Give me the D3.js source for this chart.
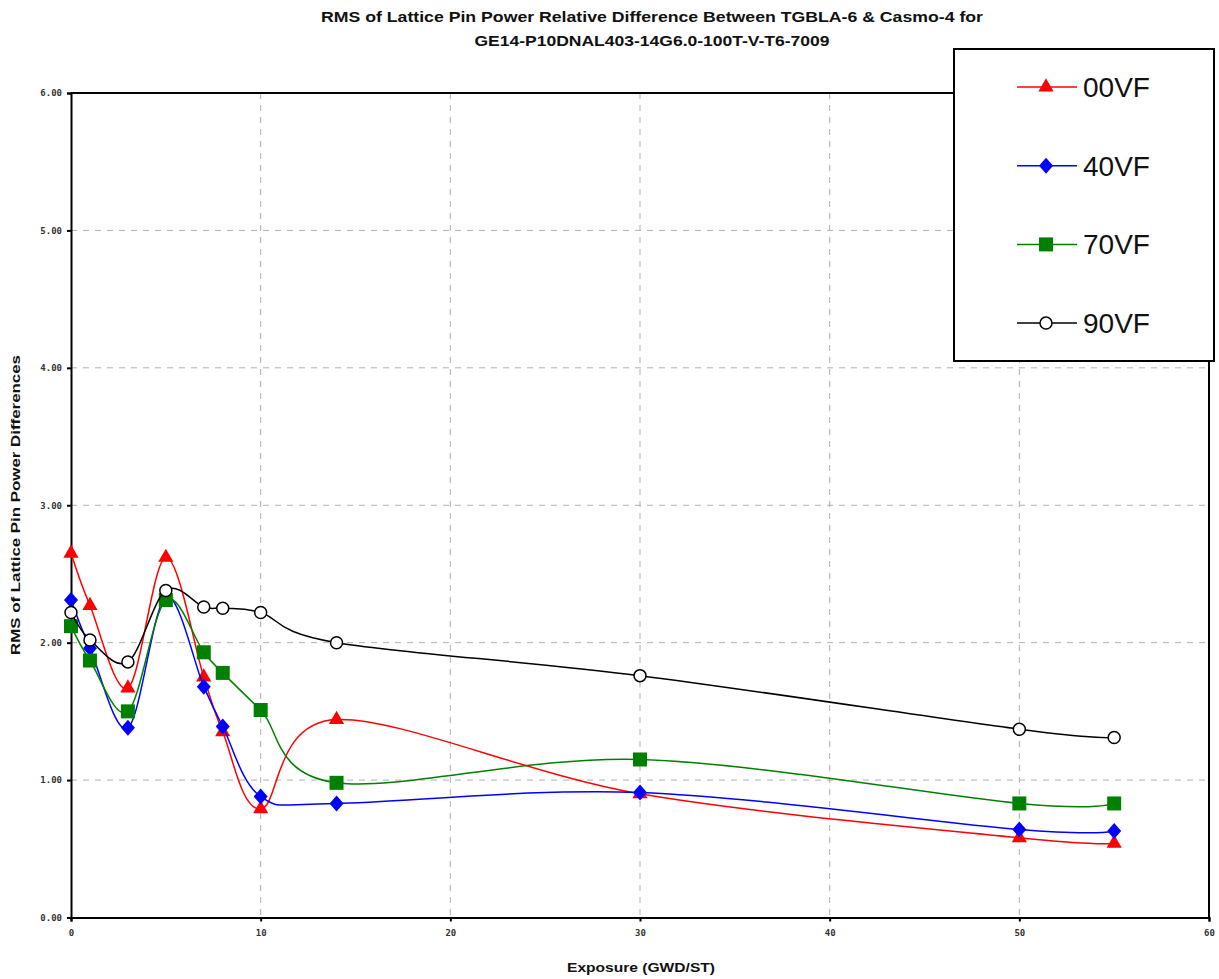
<!DOCTYPE html>
<html>
<head>
<meta charset="utf-8">
<script src="https://cdn.jsdelivr.net/npm/d3@7"></script>
<style>
  html, body { margin: 0; padding: 0; background: #fff; }
  svg { display: block; font-family: "Liberation Sans", Arial, sans-serif; }
</style>
</head>
<body>
<svg id="chart" width="1219" height="979"></svg>
<script>
// ---- data ----
const exposure = [0, 1, 3, 5, 7, 8, 10, 14, 30, 50, 55];
const seriesNames = ["00VF", "40VF", "70VF", "90VF"];
const vf00 = [2.65, 2.27, 1.67, 2.62, 1.75, 1.35, 0.79, 1.44, 0.90, 0.58, 0.54];
const vf40 = [2.31, 1.96, 1.38, 2.33, 1.68, 1.39, 0.88, 0.83, 0.91, 0.64, 0.63];
const vf70 = [2.12, 1.87, 1.50, 2.31, 1.93, 1.78, 1.51, 0.98, 1.15, 0.83, 0.83];
const vf90 = [2.22, 2.02, 1.86, 2.38, 2.26, 2.25, 2.22, 2.00, 1.76, 1.37, 1.31];
const xTicks = [0, 10, 20, 30, 40, 50, 60];
const yTicks = [0, 1, 2, 3, 4, 5, 6];
const titleLines = ["RMS of Lattice Pin Power Relative Difference Between TGBLA-6 & Casmo-4 for",
                    "GE14-P10DNAL403-14G6.0-100T-V-T6-7009"];
const xTitle = "Exposure (GWD/ST)";
const yTitle = "RMS of Lattice Pin Power Differences";

(function () {
const styles = [
  {color: "#ff0000", marker: "triangle"},
  {color: "#0000ff", marker: "diamond"},
  {color: "#008000", marker: "square"},
  {color: "#000000", marker: "circle"}
];
const allValues = [vf00, vf40, vf70, vf90];

// ---- layout ----
const svg = d3.select("#chart");
const pl = 71, pr = 1209, pt = 93, pb = 917.5;
const x = d3.scaleLinear().domain([0, 60]).range([pl, pr]);
const y = d3.scaleLinear().domain([0, 6]).range([pb, pt]);

// title
svg.selectAll("text.title").data(titleLines).enter().append("text")
  .attr("class", "title")
  .attr("x", 652).attr("y", (d, i) => 22 + i * 24)
  .attr("text-anchor", "middle")
  .attr("font-size", 15).attr("font-weight", "bold")
  .attr("fill", "#111")
  .attr("textLength", (d, i) => i === 0 ? 662 : 355)
  .attr("lengthAdjust", "spacingAndGlyphs")
  .text(d => d);

// gridlines
const grid = svg.append("g");
grid.selectAll("line.gx").data(xTicks.filter(t => t > 0 && t < 60)).enter().append("line")
  .attr("x1", d => x(d)).attr("x2", d => x(d))
  .attr("y1", pt).attr("y2", pb)
  .attr("stroke", "#b0b0b0").attr("stroke-width", 1).attr("stroke-dasharray", "6,6");
grid.selectAll("line.gy").data(yTicks.filter(t => t > 0 && t < 6)).enter().append("line")
  .attr("x1", pl).attr("x2", pr)
  .attr("y1", d => y(d)).attr("y2", d => y(d))
  .attr("stroke", "#b0b0b0").attr("stroke-width", 1).attr("stroke-dasharray", "6,6");

// frame
svg.append("line").attr("x1", pl).attr("x2", pr).attr("y1", pt).attr("y2", pt)
  .attr("stroke", "#000").attr("stroke-width", 2);
svg.append("line").attr("x1", pr).attr("x2", pr).attr("y1", pt).attr("y2", pb)
  .attr("stroke", "#000").attr("stroke-width", 2);

// axes
const xAxis = d3.axisBottom(x).tickValues(xTicks).tickFormat(d3.format("d")).tickSize(4).tickPadding(8);
const yAxis = d3.axisLeft(y).tickValues(yTicks).tickFormat(d3.format(".2f")).tickSize(4).tickPadding(5);
const gx = svg.append("g").attr("transform", `translate(0,${pb})`).call(xAxis);
const gy = svg.append("g").attr("transform", `translate(${pl},0)`).call(yAxis);
[gx, gy].forEach(g => {
  g.select(".domain").attr("stroke", "#000").attr("stroke-width", 2);
  g.selectAll(".tick line").attr("stroke", "#000").attr("stroke-width", 2);
  g.selectAll(".tick text").attr("font-size", 9).attr("font-weight", "bold")
    .attr("fill", "#333").attr("font-family", "'DejaVu Sans Mono', monospace");
});

// axis titles
svg.append("text").attr("x", 641).attr("y", 972).attr("text-anchor", "middle")
  .attr("font-size", 13).attr("font-weight", "bold").attr("fill", "#111")
  .attr("textLength", 148).attr("lengthAdjust", "spacingAndGlyphs")
  .text(xTitle);
svg.append("text").attr("transform", "translate(20,505) rotate(-90)")
  .attr("text-anchor", "middle")
  .attr("font-size", 12).attr("font-weight", "bold").attr("fill", "#111")
  .attr("textLength", 300).attr("lengthAdjust", "spacingAndGlyphs")
  .text(yTitle);

// marker drawing
function drawMarker(g, type, color, cx, cy) {
  if (type === "triangle") {
    g.append("path").attr("d", d3.symbol().type(d3.symbolTriangle).size(100)())
      .attr("transform", `translate(${cx},${cy})`).attr("fill", color);
  } else if (type === "diamond") {
    g.append("path").attr("d", `M0,-8L7,0L0,8L-7,0Z`)
      .attr("transform", `translate(${cx},${cy})`).attr("fill", color);
  } else if (type === "square") {
    g.append("rect").attr("x", cx - 7).attr("y", cy - 7).attr("width", 14).attr("height", 14)
      .attr("fill", color);
  } else {
    g.append("circle").attr("cx", cx).attr("cy", cy).attr("r", 6)
      .attr("fill", "#fff").attr("stroke", color).attr("stroke-width", 1.5);
  }
}

// series
const line = d3.line().x(d => x(d[0])).y(d => y(d[1])).curve(d3.curveCardinal.tension(0));
allValues.forEach((vals, i) => {
  const pts = exposure.map((e, j) => [e, vals[j]]);
  const g = svg.append("g");
  g.append("path").attr("d", line(pts)).attr("fill", "none")
    .attr("stroke", styles[i].color).attr("stroke-width", 1.5);
  pts.forEach(p => drawMarker(g, styles[i].marker, styles[i].color, x(p[0]), y(p[1])));
});

// legend
const lg = svg.append("g");
lg.append("rect").attr("x", 954).attr("y", 49).attr("width", 260).attr("height", 312)
  .attr("fill", "#fff").attr("stroke", "#000").attr("stroke-width", 2);
seriesNames.forEach((name, i) => {
  const cy = 87 + i * 78.7;
  lg.append("line").attr("x1", 1017).attr("x2", 1077).attr("y1", cy).attr("y2", cy)
    .attr("stroke", styles[i].color).attr("stroke-width", 1.5);
  drawMarker(lg, styles[i].marker, styles[i].color, 1046, cy);
  lg.append("text").attr("x", 1083).attr("y", cy + 10)
    .attr("font-size", 28).attr("fill", "#111").text(name);
});
})();
</script>
</body>
</html>
